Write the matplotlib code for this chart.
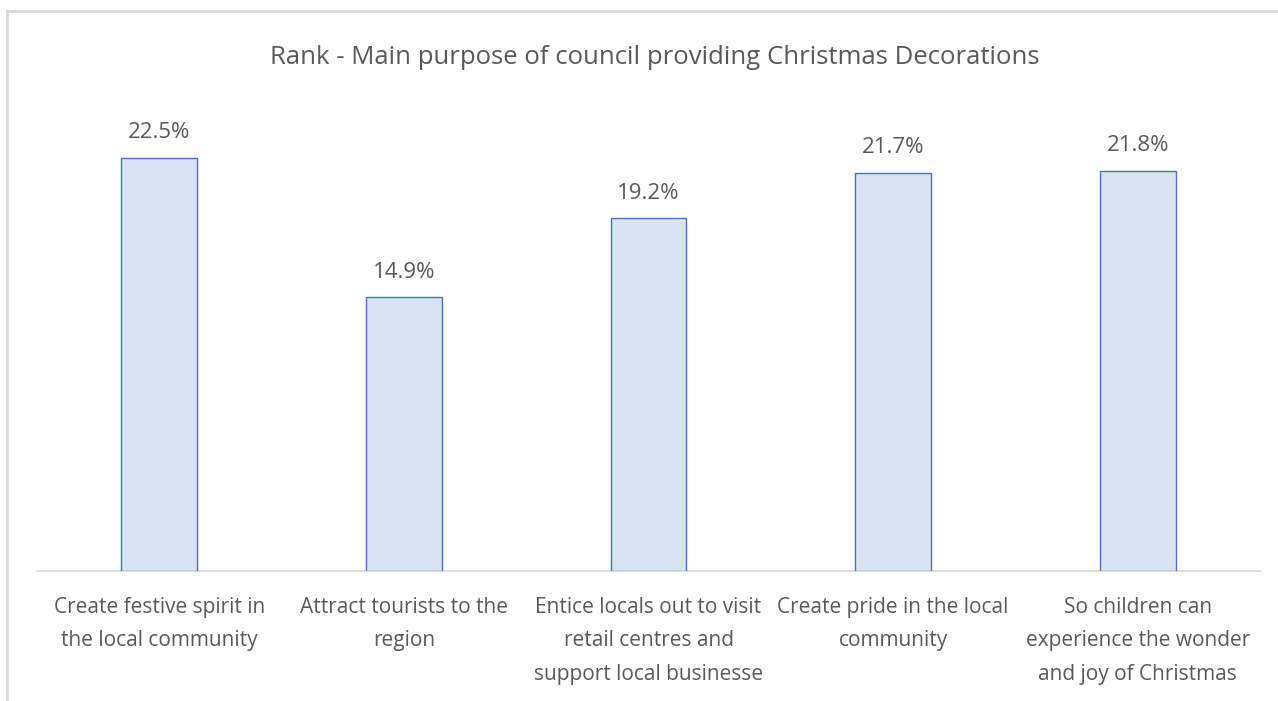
import matplotlib
matplotlib.use("Agg")
import matplotlib.pyplot as plt
from matplotlib.lines import Line2D

categories = [
    "Create festive spirit in\nthe local community",
    "Attract tourists to the\nregion",
    "Entice locals out to visit\nretail centres and\nsupport local businesse",
    "Create pride in the local\ncommunity",
    "So children can\nexperience the wonder\nand joy of Christmas",
]
values = [22.5, 14.9, 19.2, 21.7, 21.8]
value_labels = ["22.5%", "14.9%", "19.2%", "21.7%", "21.8%"]
title = "Rank - Main purpose of council providing Christmas Decorations"

W, H = 1278, 701
fig = plt.figure(figsize=(W / 100, H / 100), dpi=100)
fig.patch.set_facecolor("white")
plt.rcParams["font.family"] = ["Open Sans", "DejaVu Sans"]

txt = "#595959"
left, right, bottom, top = 37, 1260, 571, 112
ax = fig.add_axes([left / W, 1 - bottom / H, (right - left) / W, (bottom - top) / H])
x = list(range(len(categories)))
ax.bar(x, values, width=0.31, color="#DAE3F1", edgecolor="#4472C4", linewidth=1.0, zorder=3)
ax.set_xlim(-0.5, len(categories) - 0.5)
ax.set_ylim(0, (bottom - top) / 18.36)
for s in ["top", "right", "left"]:
    ax.spines[s].set_visible(False)
ax.spines["bottom"].set_color("#D9D9D9")
ax.spines["bottom"].set_linewidth(1.2)
ax.set_yticks([])
ax.set_xticks(x)
ax.set_xticklabels(categories, fontsize=15, color=txt, linespacing=1.78)
ax.tick_params(axis="x", length=0, pad=18.5)
for xi, v, lab in zip(x, values, value_labels):
    ax.annotate(lab, (xi, v), xytext=(0, 10.5), textcoords="offset points",
                ha="center", va="bottom", fontsize=16, color=txt)

fig.text(655 / W, 1 - 58 / H, title, ha="center", va="center", fontsize=18.5, color=txt)

# outer chart border (top and left visible)
fig.add_artist(Line2D([7 / W, 1], [1 - 11 / H, 1 - 11 / H], color="#D9D9D9", lw=2, transform=fig.transFigure))
fig.add_artist(Line2D([7 / W, 7 / W], [0, 1 - 11 / H], color="#D9D9D9", lw=2, transform=fig.transFigure))

fig.savefig("out.png", dpi=100, facecolor="white")
